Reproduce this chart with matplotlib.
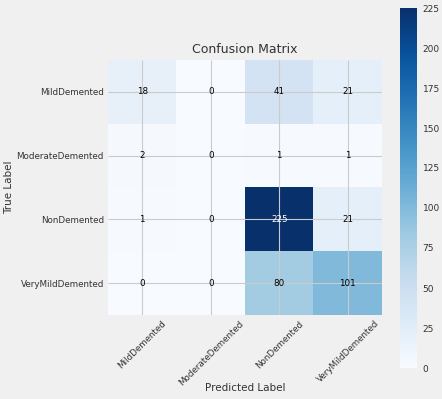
import matplotlib.pyplot as plt
import numpy as np

classes = ["MildDemented", "ModerateDemented", "NonDemented", "VeryMildDemented"]
cm = np.array([
    [18, 0, 41, 21],
    [2, 0, 1, 1],
    [1, 0, 225, 21],
    [0, 0, 80, 101],
])

plt.style.use("fivethirtyeight")
txt = "#333333"

fig = plt.figure(figsize=(4.42, 3.99), dpi=100)
ax = fig.add_axes([108 / 442, 1 - 315 / 399, 274 / 442, 255 / 399])
cax = fig.add_axes([400 / 442, 1 - 368 / 399, 17 / 442, 360 / 399])

im = ax.imshow(cm, interpolation="nearest", cmap=plt.cm.Blues, aspect="auto")
cb = fig.colorbar(im, cax=cax, ticks=range(0, 226, 25))
cb.outline.set_visible(False)
cb.ax.tick_params(labelsize=6.5, length=0, pad=4, labelcolor=txt)

ax.set_title("Confusion Matrix", fontsize=9, pad=5, color=txt)
ticks = np.arange(len(classes))
ax.set_xticks(ticks)
ax.set_xticklabels(classes, rotation=45, fontsize=6.3, color=txt)
ax.set_yticks(ticks)
ax.set_yticklabels(classes, fontsize=6.3, color=txt)
ax.tick_params(length=0, pad=3)
ax.grid(linewidth=0.8, color="#cbcbcb")

# valores dentro das celulas
thresh = cm.max() / 2.0
for i in range(cm.shape[0]):
    for j in range(cm.shape[1]):
        ax.text(j, i, cm[i, j], ha="center", va="center", fontsize=6.3,
                color="white" if cm[i, j] > thresh else "black")

fig.text(9 / 442, 1 - 187 / 399, "True Label", rotation=90, ha="center",
         va="center", fontsize=7.5, color=txt)
fig.text(245 / 442, 1 - 388 / 399, "Predicted Label", ha="center",
         va="center", fontsize=7.5, color=txt)
for s in ax.spines.values():
    s.set_visible(False)

plt.savefig("out.png", dpi=100)
